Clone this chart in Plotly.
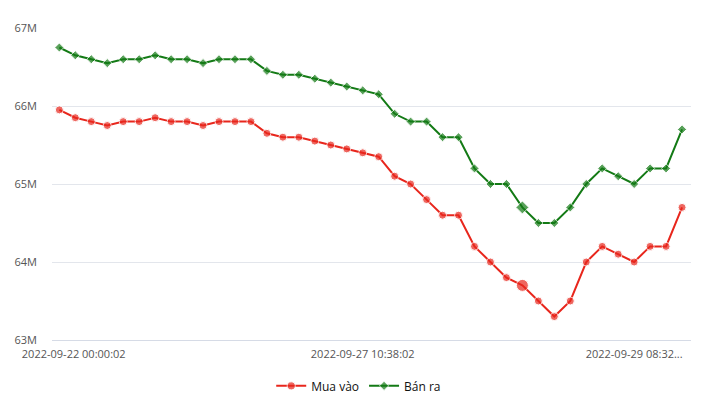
import plotly.graph_objects as go

# Data (VND), 40 observations
mua_vao = [65.95, 65.85, 65.8, 65.75, 65.8, 65.8, 65.85, 65.8, 65.8, 65.75,
           65.8, 65.8, 65.8, 65.65, 65.6, 65.6, 65.55, 65.5, 65.45, 65.4,
           65.35, 65.1, 65.0, 64.8, 64.6, 64.6, 64.2, 64.0, 63.8, 63.7,
           63.5, 63.3, 63.5, 64.0, 64.2, 64.1, 64.0, 64.2, 64.2, 64.7]
ban_ra = [66.75, 66.65, 66.6, 66.55, 66.6, 66.6, 66.65, 66.6, 66.6, 66.55,
          66.6, 66.6, 66.6, 66.45, 66.4, 66.4, 66.35, 66.3, 66.25, 66.2,
          66.15, 65.9, 65.8, 65.8, 65.6, 65.6, 65.2, 65.0, 65.0, 64.7,
          64.5, 64.5, 64.7, 65.0, 65.2, 65.1, 65.0, 65.2, 65.2, 65.7]
mua_vao = [v * 1e6 for v in mua_vao]
ban_ra = [v * 1e6 for v in ban_ra]
idx = list(range(len(mua_vao)))

x_tick_pos = [0.9, 19, 36]
x_tick_labels = ["2022-09-22 00:00:02", "2022-09-27 10:38:02", "2022-09-29 08:32..."]
highlight = 29

red = "#e8261c"
green = "#137a15"

red_sizes = [12 if i == highlight else 8 for i in idx]
green_sizes = [10 if i == highlight else 7 for i in idx]

fig = go.Figure()
fig.add_trace(go.Scatter(
    x=idx, y=mua_vao, name="Mua vào", mode="lines+markers",
    line=dict(color=red, width=2),
    marker=dict(symbol="circle", size=red_sizes, color=red),
))
fig.add_trace(go.Scatter(
    x=idx, y=ban_ra, name="Bán ra", mode="lines+markers",
    line=dict(color=green, width=2),
    marker=dict(symbol="diamond", size=green_sizes, color=green),
))

fig.update_layout(
    width=720, height=405,
    margin=dict(l=52, r=29, t=28, b=65, autoexpand=False),
    plot_bgcolor="white", paper_bgcolor="white",
    font=dict(family="Open Sans", size=11, color="#555555"),
    showlegend=True,
    legend=dict(orientation="h", x=0.48, xanchor="center", y=-0.147, yanchor="middle",
                font=dict(size=12, color="#111111"), itemwidth=30),
    xaxis=dict(range=[-0.46, 39.56], tickmode="array", tickvals=x_tick_pos,
               ticktext=x_tick_labels, showgrid=False, zeroline=False,
               showline=True, linecolor="#d6dbe6", linewidth=1, ticks="",
               ticklabelstandoff=4),
    yaxis=dict(range=[62.9999e6, 67.0001e6], dtick=1e6, tick0=63e6, tickformat="~s",
               showgrid=True, gridcolor="#e3e6ec", gridwidth=1, zeroline=False,
               ticks="", ticklabelstandoff=14),
)

fig.write_html("out.html")
